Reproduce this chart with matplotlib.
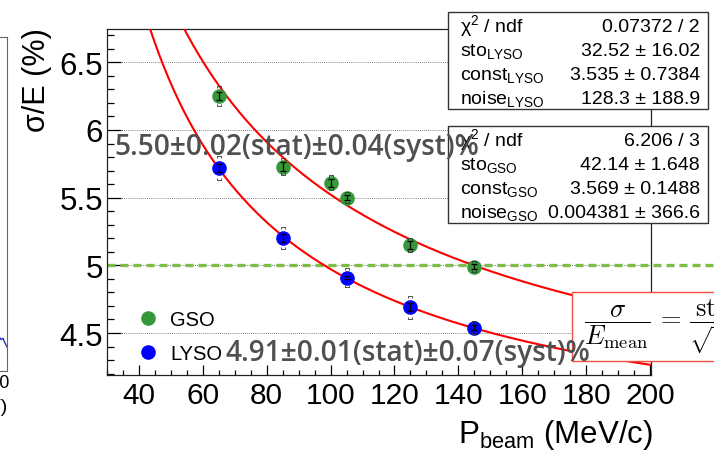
import numpy as np
import matplotlib
matplotlib.use("Agg")
import matplotlib.pyplot as plt
from matplotlib.patches import Rectangle
from matplotlib.path import Path
from matplotlib.ticker import MultipleLocator

plt.rcParams["font.family"] = ["Liberation Sans", "DejaVu Sans"]
plt.rcParams["mathtext.fontset"] = "custom"
plt.rcParams["mathtext.rm"] = "Liberation Sans"
plt.rcParams["mathtext.it"] = "Liberation Sans:italic"
plt.rcParams["mathtext.bf"] = "Liberation Sans:bold"

W, H = 714, 452

# energy resolution vs beam momentum (MeV/c, %)
gso_p = np.array([65, 85, 100, 105, 125, 145])
gso_res = np.array([6.25, 5.73, 5.61, 5.50, 5.15, 4.99])
gso_stat = np.array([0.03, 0.03, 0.03, 0.02, 0.03, 0.02])
gso_syst = np.array([0.075, 0.065, 0.055, 0.04, 0.05, 0.04])

lyso_p = np.array([65, 85, 105, 125, 145])
lyso_res = np.array([5.72, 5.20, 4.91, 4.69, 4.54])
lyso_stat = np.array([0.03, 0.03, 0.01, 0.03, 0.02])
lyso_syst = np.array([0.09, 0.08, 0.07, 0.085, 0.05])

# fit parameters: sto, const, noise
par_names = ["sto", "const", "noise"]
lyso_par = [32.52, 3.535, 128.3]
lyso_parerr = [16.02, 0.7384, 188.9]
lyso_chi2, lyso_ndf = 0.07372, 2
gso_par = [42.14, 3.569, 0.004381]
gso_parerr = [1.648, 0.1488, 366.6]
gso_chi2, gso_ndf = 6.206, 3

# neighbouring panel, only its right edge is in view
side_x = np.array([-2.2, -1.6, -1.1, -0.6, 0.0])
side_y = np.array([0.103, 0.094, 0.098, 0.085, 0.072])

GREEN = "#35993a"
BLUE = "#0000ff"


def fx(px):
    return px / W


def fy(py):
    return 1 - py / H


def resolution(p, sto, const, noise):
    return np.sqrt((sto / np.sqrt(p)) ** 2 + const ** 2 + (noise / p) ** 2)


top_bracket = Path([(-1, -0.7), (-1, 0), (1, 0), (1, -0.7)],
                   [Path.MOVETO, Path.LINETO, Path.LINETO, Path.LINETO])
bot_bracket = Path([(-1, 0.7), (-1, 0), (1, 0), (1, 0.7)],
                   [Path.MOVETO, Path.LINETO, Path.LINETO, Path.LINETO])

fig = plt.figure(figsize=(W / 100, H / 100), dpi=100)

# side panel
axs = fig.add_axes([-0.5, fy(372), 0.5 + fx(7), fy(38) - fy(372)])
axs.set_xlim(-100, 0)
axs.set_ylim(0, 1)
axs.plot(side_x, side_y, color="#2233bb", lw=1)
axs.set_xticks([])
axs.set_yticks([])
for s in axs.spines.values():
    s.set_color("#666666")
    s.set_linewidth(0.8)
fig.text(fx(10), fy(383), "1000", ha="right", va="center", fontsize=13)
fig.text(fx(8), fy(408), "(MeV)", ha="right", va="center", fontsize=14)

ax = fig.add_axes([fx(107), fy(376), fx(651) - fx(107), fy(30) - fy(376)])
ax.set_xlim(30, 200.3)
ax.set_ylim(4.19, 6.746)

ax.xaxis.set_major_locator(MultipleLocator(20))
ax.xaxis.set_minor_locator(MultipleLocator(5))
ax.yaxis.set_major_locator(MultipleLocator(0.5))
ax.yaxis.set_minor_locator(MultipleLocator(0.1))
ax.yaxis.set_major_formatter(plt.FuncFormatter(lambda v, _: f"{v:g}"))
ax.tick_params(axis="both", which="both", direction="in", top=False, right=False, width=0.9)
ax.tick_params(axis="y", which="major", length=10, labelsize=22.5, pad=3)
ax.tick_params(axis="y", which="minor", length=5.2)
ax.tick_params(axis="x", which="major", length=7.5, labelsize=21.5, pad=4)
ax.tick_params(axis="x", which="minor", length=3.8)
for s in ax.spines.values():
    s.set_linewidth(0.9)
    s.set_color("#222222")
ax.yaxis.grid(True, ls=(0, (1, 1.5)), color="#555555", lw=0.6)
ax.set_axisbelow(True)

# 5% reference line running out to the page edge
ax.axhline(5.0, xmin=0, xmax=(W - 107) / (651 - 107), color="#7dbd45", lw=2.4,
           ls=(0, (2.4, 1.5)), clip_on=False, zorder=2)

p_fit = np.linspace(40, 200, 300)
ax.plot(p_fit, resolution(p_fit, *lyso_par), color="red", lw=1.5, zorder=3)
ax.plot(p_fit, resolution(p_fit, *gso_par), color="red", lw=1.5, zorder=3)

h_gso, = ax.plot(gso_p, gso_res, "o", ms=9.5, color=GREEN, mec=GREEN, ls="none", zorder=4)
h_lyso, = ax.plot(lyso_p, lyso_res, "o", ms=9.5, color=BLUE, mec=BLUE, ls="none", zorder=4)

for p, r, st, sy in [(gso_p, gso_res, gso_stat, gso_syst), (lyso_p, lyso_res, lyso_stat, lyso_syst)]:
    ax.errorbar(p, r, yerr=st, fmt="none", ecolor="black", elinewidth=0.9, capsize=2,
                capthick=0.9, zorder=5)
    ax.plot(p, r + sy, marker=top_bracket, ms=3.3, ls="none", mfc="none", mec="#333333",
            mew=0.6, zorder=5)
    ax.plot(p, r - sy, marker=bot_bracket, ms=3.3, ls="none", mfc="none", mec="#333333",
            mew=0.6, zorder=5)

ax.legend([h_gso, h_lyso], ["GSO", "LYSO"], loc="upper left", frameon=False,
          bbox_to_anchor=(fx(138), fy(311)), bbox_transform=fig.transFigure,
          fontsize=14.5, handlelength=1.0, handletextpad=0.6, labelspacing=0.75,
          borderpad=0, borderaxespad=0)

fig.text(fx(37), fy(28), "σ/E (%)", rotation=90, ha="center", va="top", fontsize=22)
fig.text(fx(653), fy(443), r"P$_{\rm beam}$ (MeV/c)", ha="right", va="baseline", fontsize=22.5)


# fit statistics boxes
def stat_box(top, name, chi2, ndf, par, err):
    fig.patches.append(Rectangle((fx(448), fy(top + 97)), fx(708) - fx(448), fy(top) - fy(top + 97),
                                 transform=fig.transFigure, facecolor="white",
                                 edgecolor="#333333", lw=1, zorder=6))
    rows = [("χ$^2$ / ndf", f"{chi2:g} / {ndf}")]
    rows += [(f"{n}$_{{\\rm {name}}}$", f"{v:g} ± {e:g}") for n, v, e in zip(par_names, par, err)]
    for i, (lab, val) in enumerate(rows):
        base = top + 19 + 24 * i
        fig.text(fx(460), fy(base), lab, ha="left", va="baseline", fontsize=14, zorder=7)
        fig.text(fx(700), fy(base), val, ha="right", va="baseline", fontsize=14, zorder=7)


stat_box(13, "LYSO", lyso_chi2, lyso_ndf, lyso_par, lyso_parerr)
stat_box(127, "GSO", gso_chi2, gso_ndf, gso_par, gso_parerr)

# resolution at 105 MeV/c
gso_sel = gso_p == 105
lyso_sel = lyso_p == 105
gso_txt = f"{gso_res[gso_sel][0]:.2f}±0.02(stat)±{gso_syst[gso_sel][0]:.2f}(syst)%"
lyso_txt = f"{lyso_res[lyso_sel][0]:.2f}±{lyso_stat[lyso_sel][0]:.2f}(stat)±{lyso_syst[lyso_sel][0]:.2f}(syst)%"
fig.text(fx(114), fy(147), gso_txt, ha="left", va="center", fontsize=20.2, color="#505050",
         family="Open Sans", weight="semibold", zorder=8)
fig.text(fx(225), fy(353), lyso_txt, ha="left", va="center", fontsize=20.2, color="#505050",
         family="Open Sans", weight="semibold", zorder=8)

# parametrisation box
fig.patches.append(Rectangle((fx(572), fy(362)), fx(760) - fx(572), fy(293) - fy(362),
                             transform=fig.transFigure, facecolor="white",
                             edgecolor="#f05040", lw=1, zorder=6))
fig.text(fx(584), fy(327),
         r"$\dfrac{\sigma}{E_{\mathrm{mean}}} \,=\, \dfrac{\mathrm{sto}}{\sqrt{P}} \oplus \mathrm{const} \oplus \dfrac{\mathrm{noise}}{P}$",
         ha="left", va="center", fontsize=19, math_fontfamily="cm", zorder=7)

fig.savefig("out.png", dpi=100)
